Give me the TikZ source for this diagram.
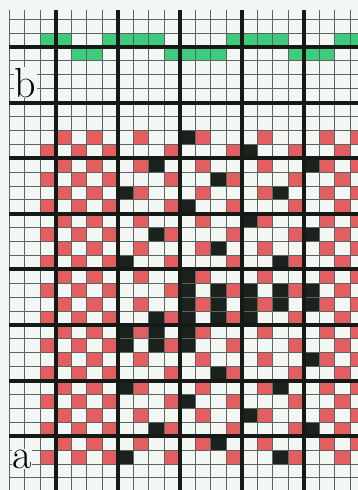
\documentclass[tikz,border=0pt]{standalone}
\definecolor{bgc}{HTML}{F3F7F3}
\definecolor{wred}{HTML}{E35E60}
\definecolor{wblack}{HTML}{1B211D}
\definecolor{wgreen}{HTML}{3ECB7D}
\definecolor{thinc}{HTML}{5E6360}
\definecolor{thickc}{HTML}{161A17}
\newcommand\wcell[3]{\fill[#1] ({55.8+15.5*(#2)},{47+13.9*(#3)}) rectangle ++(15.5,13.9);}
\begin{document}
\begin{tikzpicture}[x=1pt,y=-1pt,
  thinline/.style={draw=thinc,line width=0.9pt},
  thickline/.style={draw=thickc,line width=4pt},
  lbl/.style={font=\fontsize{42}{42}\selectfont,fill=bgc,inner sep=0.6pt,anchor=base}]
\useasboundingbox (0,0) rectangle (358,490);
\fill[bgc] (0,0) rectangle (358,490);
% green threading marks
\foreach \c in {-1,0,3,4,5,6,11,12,13,14,18,19} {\wcell{wgreen}{\c}{-1}}
\foreach \c in {1,2,7,8,9,10,15,16,17} {\wcell{wgreen}{\c}{0}}
% red cells
\foreach \r in {7,9,...,29} {\foreach \c in {-1,1,3,7,11,15,18} {\wcell{wred}{\c}{\r}}}
\foreach \r in {6,8,...,28} {\foreach \c in {0,2,5,9,13,17,19} {\wcell{wred}{\c}{\r}}}
% black cells
\foreach \c/\r in {8/6,12/7,6/8,16/8,10/9,4/10,14/10,8/11,12/12,6/13,16/13,10/14,4/15,14/15,
  8/16,8/17,10/17,12/17,14/17,16/17,8/18,10/18,12/18,14/18,16/18,
  6/19,8/19,10/19,12/19,4/20,6/20,8/20,
  4/21,6/21,8/21,16/22,10/23,
  4/24,14/24,8/25,12/26,6/27,16/27,10/28,4/29,14/29} {\wcell{wblack}{\c}{\r}}
% thin grid
\foreach \k in {-3,...,19} {\draw[thinline] ({55.8+15.5*\k},10) -- ({55.8+15.5*\k},490);}
\foreach \k in {-2,...,31} {\draw[thinline] (9.3,{47+13.9*\k}) -- (358,{47+13.9*\k});}
% thick grid
\foreach \k in {0,4,8,12,16} {\draw[thickline] ({55.8+15.5*\k},10) -- ({55.8+15.5*\k},490);}
\foreach \k in {0,4,...,28} {\draw[thickline] (9.3,{47+13.9*\k}) -- (358,{47+13.9*\k});}
% labels
\node[lbl] (lb) at (25.5,97) {b};
\node[lbl] (la) at (22,468) {a};
\end{tikzpicture}
\end{document}
